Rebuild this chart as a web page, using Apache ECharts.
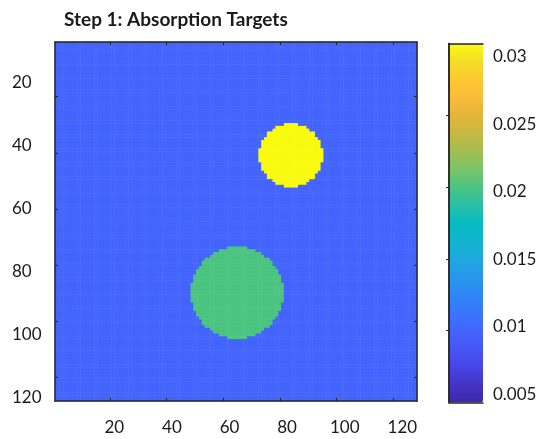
<!DOCTYPE html>
<html>
<head>
<meta charset="utf-8">
<script src="https://cdn.jsdelivr.net/npm/echarts@6/dist/echarts.min.js"></script>
<style>
  html, body { margin: 0; padding: 0; background: #fff; }
  #chart { width: 543px; height: 439px; }
</style>
</head>
<body>
<div id="chart"></div>
<script>
// Image size (pixels of the reconstruction grid)
const gridSize = 128;
// Background absorption value
const backgroundValue = 0.01;
// Circular absorption targets: centre column/row, radius (pixels) and value
const targetCenterX = [84, 65];
const targetCenterY = [41, 90];
const targetRadius = [11.4, 16.3];
const targetValue = [0.03, 0.02];

// Axis tick labels
const xTickLabels = [20, 40, 60, 80, 100, 120];
const yTickLabels = [20, 40, 60, 80, 100, 120];
const colorbarTicks = [0.005, 0.01, 0.015, 0.02, 0.025, 0.03];
const colorMin = 0.005;
const colorMax = 0.03;

// Parula-like colour ramp
const parula = [
  '#3e26a8', '#4433c6', '#4746e6', '#4656f6', '#4364fd', '#3a76fc',
  '#2e87f7', '#2797eb', '#1fa8de', '#12b5d0', '#06bbc1', '#2ac0a8',
  '#4bc480', '#7bc467', '#a4be52', '#c6b844', '#e3b53a', '#fbbb3b',
  '#fdc931', '#f5dd28', '#f9fb0e'
];

const categories = [];
for (let i = 1; i <= gridSize; i++) categories.push(String(i));

// Build the absorption map, one cell per pixel
const cells = [];
for (let row = 1; row <= gridSize; row++) {
  for (let col = 1; col <= gridSize; col++) {
    let v = backgroundValue;
    for (let k = 0; k < targetValue.length; k++) {
      const dx = col - targetCenterX[k];
      const dy = row - targetCenterY[k];
      if (dx * dx + dy * dy <= targetRadius[k] * targetRadius[k]) v = targetValue[k];
    }
    cells.push([col - 1, row - 1, v]);
  }
}

const FONT = 'Lato';
const TXT = '#1a1a1a';
const LINE = '#262626';

const plot = { left: 55, top: 42, width: 362, height: 359 };
const bar = { left: 449, top: 43.5, width: 34, height: 359 };

const tickEvery20 = (idx) => (idx + 1) % 20 === 0;

const boxAxis = (extra) => Object.assign({
  type: 'category',
  data: categories,
  z: 10,
  boundaryGap: true,
  axisLine: { show: true, lineStyle: { color: LINE, width: 1.5 } },
  axisTick: { show: true, inside: true, length: 3, alignWithLabel: true,
              interval: tickEvery20, lineStyle: { color: LINE, width: 1 } },
  axisLabel: { show: false },
  splitLine: { show: false }
}, extra);

const labelAxis = (extra) => Object.assign({
  type: 'value',
  axisLine: { show: false },
  axisTick: { show: false },
  splitLine: { show: false }
}, extra);

const chart = echarts.init(document.getElementById('chart'), null, { renderer: 'canvas' });
chart.setOption({
  animation: false,
  backgroundColor: '#fff',
  title: {
    text: 'Step 1: Absorption Targets',
    left: 59, top: 5,
    textStyle: { fontFamily: FONT, fontSize: 19, fontWeight: 'bold', color: TXT }
  },
  grid: [
    Object.assign({}, plot),
    Object.assign({}, plot),
    Object.assign({}, bar),
    Object.assign({}, bar)
  ],
  xAxis: [
    boxAxis({ gridIndex: 0, position: 'bottom' }),
    boxAxis({ gridIndex: 0, position: 'top' }),
    labelAxis({ gridIndex: 1, position: 'bottom', min: -0.6, max: 125.1,
      axisLabel: { customValues: xTickLabels, margin: 18, fontFamily: FONT, fontSize: 17, color: TXT } }),
    labelAxis({ gridIndex: 2, position: 'bottom', min: 0, max: 1, z: 10,
      axisLine: { show: true, lineStyle: { color: LINE, width: 1.5 } }, axisLabel: { show: false } }),
    labelAxis({ gridIndex: 2, position: 'top', min: 0, max: 1, z: 10,
      axisLine: { show: true, lineStyle: { color: LINE, width: 1.5 } }, axisLabel: { show: false } }),
    labelAxis({ gridIndex: 3, position: 'bottom', min: 0, max: 1, axisLabel: { show: false } })
  ],
  yAxis: [
    boxAxis({ gridIndex: 0, position: 'left', inverse: true }),
    boxAxis({ gridIndex: 0, position: 'right', inverse: true }),
    labelAxis({ gridIndex: 1, position: 'left', inverse: true, min: 7.04, max: 121,
      axisLabel: { customValues: yTickLabels, margin: 43, align: 'left', fontFamily: FONT, fontSize: 17, color: TXT } }),
    labelAxis({ gridIndex: 2, position: 'left', min: colorMin, max: colorMax, z: 10,
      axisLine: { show: true, lineStyle: { color: LINE, width: 1.5 } }, axisLabel: { show: false } }),
    labelAxis({ gridIndex: 2, position: 'right', min: colorMin, max: colorMax, z: 10,
      axisLine: { show: true, lineStyle: { color: LINE, width: 1.5 } },
      axisTick: { show: true, inside: true, length: 3, customValues: [0.01, 0.015, 0.02, 0.025],
                  lineStyle: { color: LINE, width: 1 } },
      axisLabel: { show: false } }),
    labelAxis({ gridIndex: 3, position: 'right', min: 0.00441, max: 0.03098,
      axisLabel: { customValues: colorbarTicks, margin: 10, align: 'left', fontFamily: FONT, fontSize: 17, color: TXT } })
  ],
  visualMap: {
    type: 'continuous',
    seriesIndex: 0,
    min: colorMin,
    max: colorMax,
    calculable: false,
    orient: 'vertical',
    left: bar.left,
    top: bar.top,
    itemWidth: bar.width,
    itemHeight: bar.height,
    padding: 0,
    text: null,
    showLabel: false,
    inRange: { color: parula }
  },
  series: [{
    type: 'heatmap',
    xAxisIndex: 0,
    yAxisIndex: 0,
    data: cells,
    progressive: 0,
    itemStyle: { borderWidth: 0 },
    emphasis: { disabled: true }
  }]
});
</script>
</body>
</html>
